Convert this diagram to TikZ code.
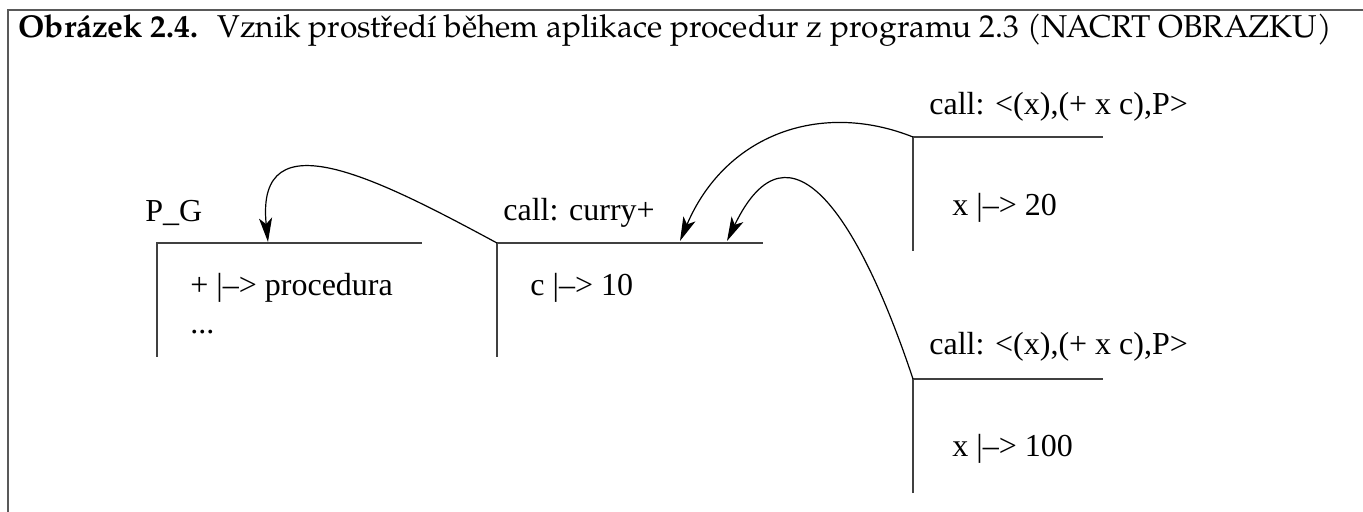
\documentclass[tikz,border=0pt]{standalone}
\usepackage{fontspec}
\setmainfont{Liberation Serif}
\newfontfamily\capfont{TeX Gyre Pagella}
\usetikzlibrary{arrows.meta}
\begin{document}
\begin{tikzpicture}[x=0.5pt,y=-0.5pt,
  framelines/.style={draw=black!65,line width=1pt},
  envline/.style={draw=black!75,line width=0.8pt},
  lbl/.style={anchor=base west,inner sep=0pt,font=\fontsize{16pt}{19pt}\selectfont},
  link/.style={draw=black,line width=0.6pt,-{Stealth[length=12pt,width=6.5pt,inset=3pt]}}]
\useasboundingbox (0,0) rectangle (1363,512);
% frame
\coordinate (fr) at (8,10);
\draw[framelines] (8,512) -- (fr) -- (1363,10);
\node[anchor=base west,inner sep=0pt,font=\fontsize{15.8pt}{18pt}\capfont] (cap) at (18,38)
  {{\bfseries Obrázek 2.4.}\hspace{0.6em}Vznik prostředí během aplikace procedur z programu 2.3 (NACRT OBRAZKU)};
% P_G
\coordinate (pg) at (157,243);
\coordinate (pgend) at (422,243);
\coordinate (pgbot) at (157,357);
\draw[envline] (pgbot) -- (pg) -- (pgend);
\node[lbl] (pgl) at (145,222) {P\_G};
\node[lbl] (pgt) at (190,296) {+ |--> procedura};
\node[lbl] (pgd) at (190,334) {...};
\coordinate (pgin) at (268,242);
% curry
\coordinate (cu) at (497,243);
\coordinate (cuend) at (763,243);
\coordinate (cubot) at (497,357);
\draw[envline] (cubot) -- (cu) -- (cuend);
\node[lbl] (cul) at (503,221) {call: curry+};
\node[lbl] (cut) at (530,296) {c |--> 10};
\coordinate (cuin1) at (680,241);
\coordinate (cuin2) at (727,241);
% call 1
\coordinate (ca) at (913,137);
\coordinate (caend) at (1103,137);
\coordinate (cabot) at (913,251);
\draw[envline] (cabot) -- (ca) -- (caend);
\node[lbl] (cal) at (929,115) {call: <(x),(+ x c),P>};
\node[lbl] (cat) at (952,216) {x |--> 20};
% call 2
\coordinate (cb) at (913,379);
\coordinate (cbend) at (1103,379);
\coordinate (cbbot) at (913,493);
\draw[envline] (cbbot) -- (cb) -- (cbend);
\node[lbl] (cbl) at (929,355) {call: <(x),(+ x c),P>};
\node[lbl] (cbt) at (952,457) {x |--> 100};
% links
\draw[link] (cu) .. controls (380,180) and (255,115) .. (pgin);
\draw[link] (ca) .. controls (820,100) and (725,135) .. (cuin1);
\draw[link] (cb) .. controls (860,220) and (790,110) .. (cuin2);
\end{tikzpicture}
\end{document}
